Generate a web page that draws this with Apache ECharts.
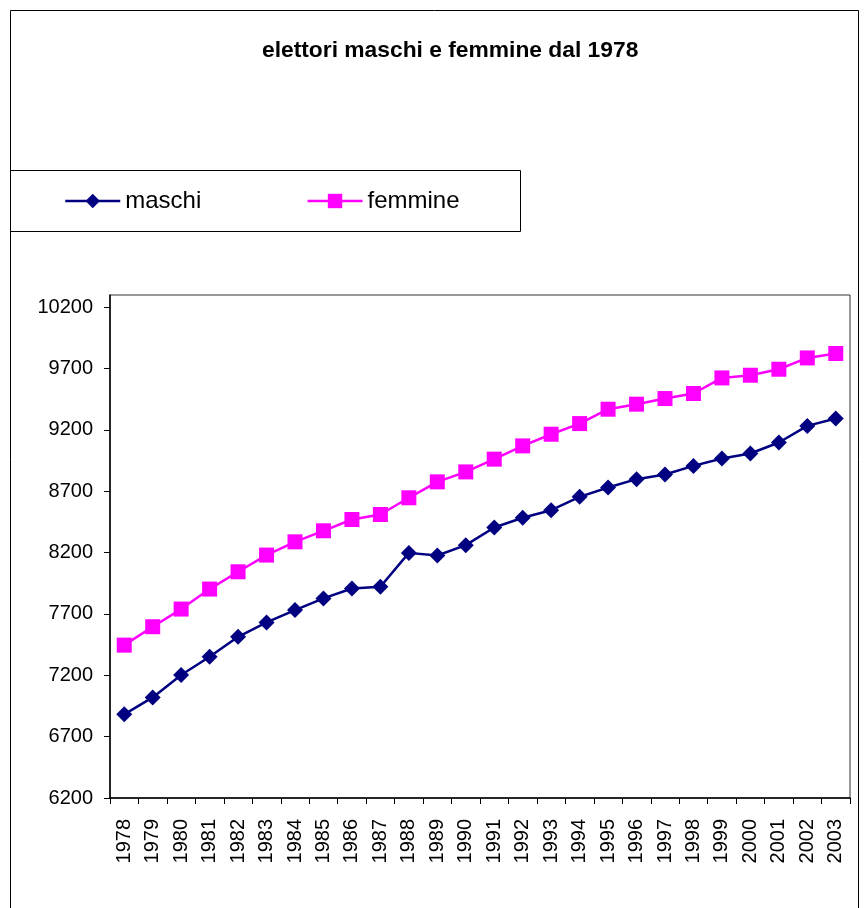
<!DOCTYPE html>
<html>
<head>
<meta charset="utf-8">
<script src="https://cdn.jsdelivr.net/npm/echarts@6/dist/echarts.min.js"></script>
<style>
  html, body { margin: 0; padding: 0; background: #fff; }
  #main { width: 864px; height: 908px; }
</style>
</head>
<body>
<div id="main"></div>
<script>
  // anni e valori
  var anni = ['1978', '1979', '1980', '1981', '1982', '1983', '1984', '1985', '1986', '1987',
    '1988', '1989', '1990', '1991', '1992', '1993', '1994', '1995', '1996', '1997',
    '1998', '1999', '2000', '2001', '2002', '2003'];
  var maschi = [6882, 7020, 7202, 7351, 7514, 7631, 7732, 7827, 7908, 7922,
    8198, 8177, 8261, 8405, 8484, 8546, 8655, 8731, 8799, 8837,
    8907, 8967, 9008, 9098, 9233, 9293];
  var femmine = [7446, 7596, 7740, 7903, 8044, 8180, 8288, 8378, 8470, 8511,
    8647, 8777, 8858, 8962, 9070, 9165, 9252, 9369, 9410, 9456,
    9497, 9624, 9646, 9695, 9787, 9823];
  var yTicks = [6200, 6700, 7200, 7700, 8200, 8700, 9200, 9700, 10200];

  var font = 'Liberation Sans, Arial, sans-serif';
  var chart = echarts.init(document.getElementById('main'));
  chart.setOption({
    backgroundColor: '#fff',
    animation: false,
    title: {
      text: 'elettori maschi e femmine dal 1978',
      left: 257,
      top: 34,
      textStyle: { fontFamily: font, fontSize: 22.8, fontWeight: 'bold', color: '#000' }
    },
    graphic: [
      { type: 'rect', shape: { x: 10.5, y: 10.5, width: 848, height: 910 },
        style: { fill: 'none', stroke: '#000', lineWidth: 1 }, z: -1 },
      { type: 'rect', shape: { x: 10.5, y: 170.5, width: 510, height: 61 },
        style: { fill: 'none', stroke: '#000', lineWidth: 1 }, z: -1 }
    ],
    legend: {
      left: 59,
      top: 184,
      itemWidth: 55,
      itemHeight: 18,
      itemGap: 105,
      lineStyle: { width: 2.5 },
      textStyle: { fontFamily: font, fontSize: 24, color: '#000' },
      data: ['maschi', 'femmine']
    },
    grid: {
      left: 110,
      right: 14,
      top: 295,
      bottom: 110,
      show: true,
      borderColor: '#333',
      borderWidth: 1,
      containLabel: false
    },
    xAxis: {
      type: 'category',
      data: anni,
      boundaryGap: true,
      axisLine: { lineStyle: { color: '#000', width: 1.5 } },
      axisTick: { show: true, interval: 0, length: 6, lineStyle: { color: '#000' } },
      axisLabel: { interval: 0, rotate: 90, margin: 21, fontFamily: font, fontSize: 20, color: '#000' },
      splitLine: { show: false }
    },
    yAxis: {
      type: 'value',
      min: 6200,
      max: 10300,
      interval: 500,
      axisLine: { show: true, lineStyle: { color: '#000', width: 1.5 } },
      axisTick: { show: true, length: 6, lineStyle: { color: '#000' }, customValues: yTicks },
      axisLabel: {
        margin: 17, fontFamily: font, fontSize: 20, color: '#000', customValues: yTicks,
        formatter: function (v) { return String(v); }
      },
      splitLine: { show: false }
    },
    series: [
      {
        name: 'maschi',
        type: 'line',
        data: maschi,
        symbol: 'diamond',
        symbolSize: 16,
        lineStyle: { color: '#000080', width: 2.5 },
        itemStyle: { color: '#000080' }
      },
      {
        name: 'femmine',
        type: 'line',
        data: femmine,
        symbol: 'rect',
        symbolSize: 15,
        lineStyle: { color: '#ff00ff', width: 2.5 },
        itemStyle: { color: '#ff00ff' }
      }
    ]
  });
</script>
</body>
</html>
